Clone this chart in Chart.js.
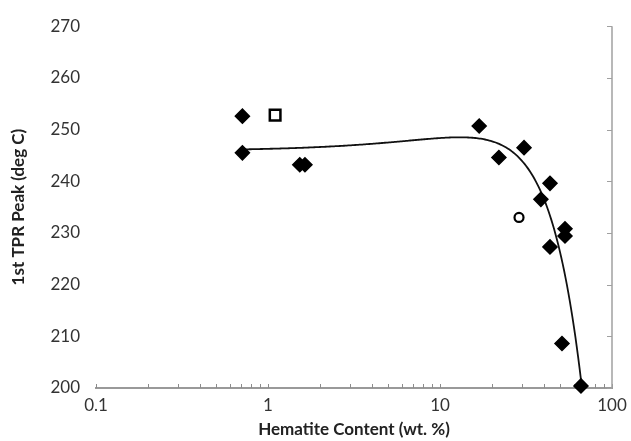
<!DOCTYPE html>
<html>
<head>
<meta charset="utf-8">
<script src="https://cdn.jsdelivr.net/npm/chart.js@4"></script>
<style>
  html, body { margin: 0; padding: 0; background: #fff; }
  #wrap { width: 631px; height: 441px; }
</style>
</head>
<body>
<div id="wrap"><canvas id="c" width="631" height="441"></canvas></div>
<script>
// Samples measured as filled diamonds (fitted with the trend curve)
const hematite = [0.71, 0.71, 1.53, 1.64, 16.9, 22.0, 30.8, 38.6, 43.6, 43.6, 53.3, 53.3, 51.2, 66];
const tprPeak  = [252.6, 245.5, 243.2, 243.2, 250.7, 244.6, 246.5, 236.5, 239.6, 227.3, 230.8, 229.4, 208.6, 200.4];
// Single reference samples
const squareX = [1.1];
const squareY = [252.8];
const circleX = [28.8];
const circleY = [233];
// Axis ticks
const xTicks = [0.1, 1, 10, 100];
const yTicks = [200, 210, 220, 230, 240, 250, 260, 270];

// Third-order polynomial least-squares trend through the diamond samples
function polyFit(xs, ys, order) {
  const n = order + 1;
  const A = [];
  for (let i = 0; i < n; i++) {
    A.push(new Array(n + 1).fill(0));
  }
  xs.forEach((x, p) => {
    for (let i = 0; i < n; i++) {
      for (let j = 0; j < n; j++) A[i][j] += Math.pow(x, i + j);
      A[i][n] += Math.pow(x, i) * ys[p];
    }
  });
  for (let i = 0; i < n; i++) {
    for (let j = i + 1; j < n; j++) {
      const f = A[j][i] / A[i][i];
      for (let k = i; k <= n; k++) A[j][k] -= f * A[i][k];
    }
  }
  const c = new Array(n).fill(0);
  for (let i = n - 1; i >= 0; i--) {
    let s = A[i][n];
    for (let k = i + 1; k < n; k++) s -= A[i][k] * c[k];
    c[i] = s / A[i][i];
  }
  return c;
}
const coef = polyFit(hematite, tprPeak, 3);
const xMin = Math.min(...hematite), xMax = Math.max(...hematite);
const trend = [];
for (let i = 0; i <= 240; i++) {
  const x = xMin * Math.pow(xMax / xMin, i / 240);
  const y = coef.reduce((s, c, k) => s + c * Math.pow(x, k), 0);
  if (y >= 200) trend.push({ x, y });
}

const pts = (xs, ys) => xs.map((x, i) => ({ x, y: ys[i] }));

// Inner tick marks on the bottom axis and the right-hand vertical axis
const axisTicks = {
  id: 'axisTicks',
  beforeDatasetsDraw(chart) {
    const { ctx, chartArea: a, scales: { x, y } } = chart;
    ctx.save();
    ctx.strokeStyle = '#8c8c8c';
    ctx.lineWidth = 1;
    for (let d = 0.1; d < 100; d *= 10) {
      for (let m = 1; m <= 10; m++) {
        const px = Math.round(x.getPixelForValue(d * m)) + 0.5;
        ctx.beginPath();
        ctx.moveTo(px, a.bottom);
        ctx.lineTo(px, a.bottom - 4);
        ctx.stroke();
      }
    }
    ctx.lineWidth = 1.5;
    ctx.strokeStyle = '#a0a0a0';
    ctx.beginPath();
    ctx.moveTo(a.right, a.top);
    ctx.lineTo(a.right, a.bottom);
    ctx.stroke();
    ctx.lineWidth = 1;
    yTicks.forEach(v => {
      const py = Math.round(y.getPixelForValue(v)) + 0.5;
      ctx.beginPath();
      ctx.moveTo(a.right, py);
      ctx.lineTo(a.right - 5, py);
      ctx.stroke();
    });
    ctx.restore();
  }
};

const FONT = 'Lato, "Open Sans", sans-serif';

new Chart(document.getElementById('c'), {
  type: 'scatter',
  data: {
    datasets: [
      {
        type: 'line', data: trend, borderColor: '#111', borderWidth: 1.8,
        pointRadius: 0, fill: false, tension: 0, order: 2
      },
      {
        data: pts(hematite, tprPeak), pointStyle: 'rectRot', pointRadius: 7,
        backgroundColor: '#000', borderColor: '#000', borderWidth: 1.5, clip: false, order: 1
      },
      {
        data: pts(squareX, squareY), pointStyle: 'rect', pointRadius: 7.5,
        backgroundColor: '#fff', borderColor: '#000', borderWidth: 2.5, clip: false, order: 1
      },
      {
        data: pts(circleX, circleY), pointStyle: 'circle', pointRadius: 4.5,
        backgroundColor: '#fff', borderColor: '#000', borderWidth: 2.2, clip: false, order: 1
      }
    ]
  },
  options: {
    responsive: false,
    animation: false,
    layout: { padding: { top: 21, right: 19, left: 0, bottom: 0 } },
    plugins: { legend: { display: false }, tooltip: { enabled: false } },
    scales: {
      x: {
        type: 'logarithmic', min: 0.1, max: 100,
        afterBuildTicks: s => { s.ticks = xTicks.map(v => ({ value: v })); },
        afterFit: s => { s.height = 53; s.paddingRight = 0; s.paddingLeft = 0; },
        grid: { display: false, drawTicks: false },
        border: { display: true, color: '#999', width: 2 },
        ticks: {
          color: '#333', font: { family: FONT, size: 17 }, padding: 7,
          maxRotation: 0, autoSkip: false,
          callback: v => String(v)
        },
        title: {
          display: true, text: 'Hematite Content (wt. %)', color: '#222',
          font: { family: FONT, size: 17, weight: 'bold' }, padding: { top: 0, bottom: 1 }
        }
      },
      y: {
        min: 200, max: 270,
        afterBuildTicks: s => { s.ticks = yTicks.map(v => ({ value: v })); },
        afterFit: s => { s.width = 96; },
        grid: { display: false, drawTicks: false },
        border: { display: false },
        ticks: { color: '#333', font: { family: FONT, size: 17 }, padding: 16 },
        title: {
          display: true, text: '1st TPR Peak (deg C)', color: '#222',
          font: { family: FONT, size: 17, weight: 'bold' }, padding: { top: 8, bottom: 0 }
        }
      }
    }
  },
  plugins: [axisTicks]
});
</script>
</body>
</html>
